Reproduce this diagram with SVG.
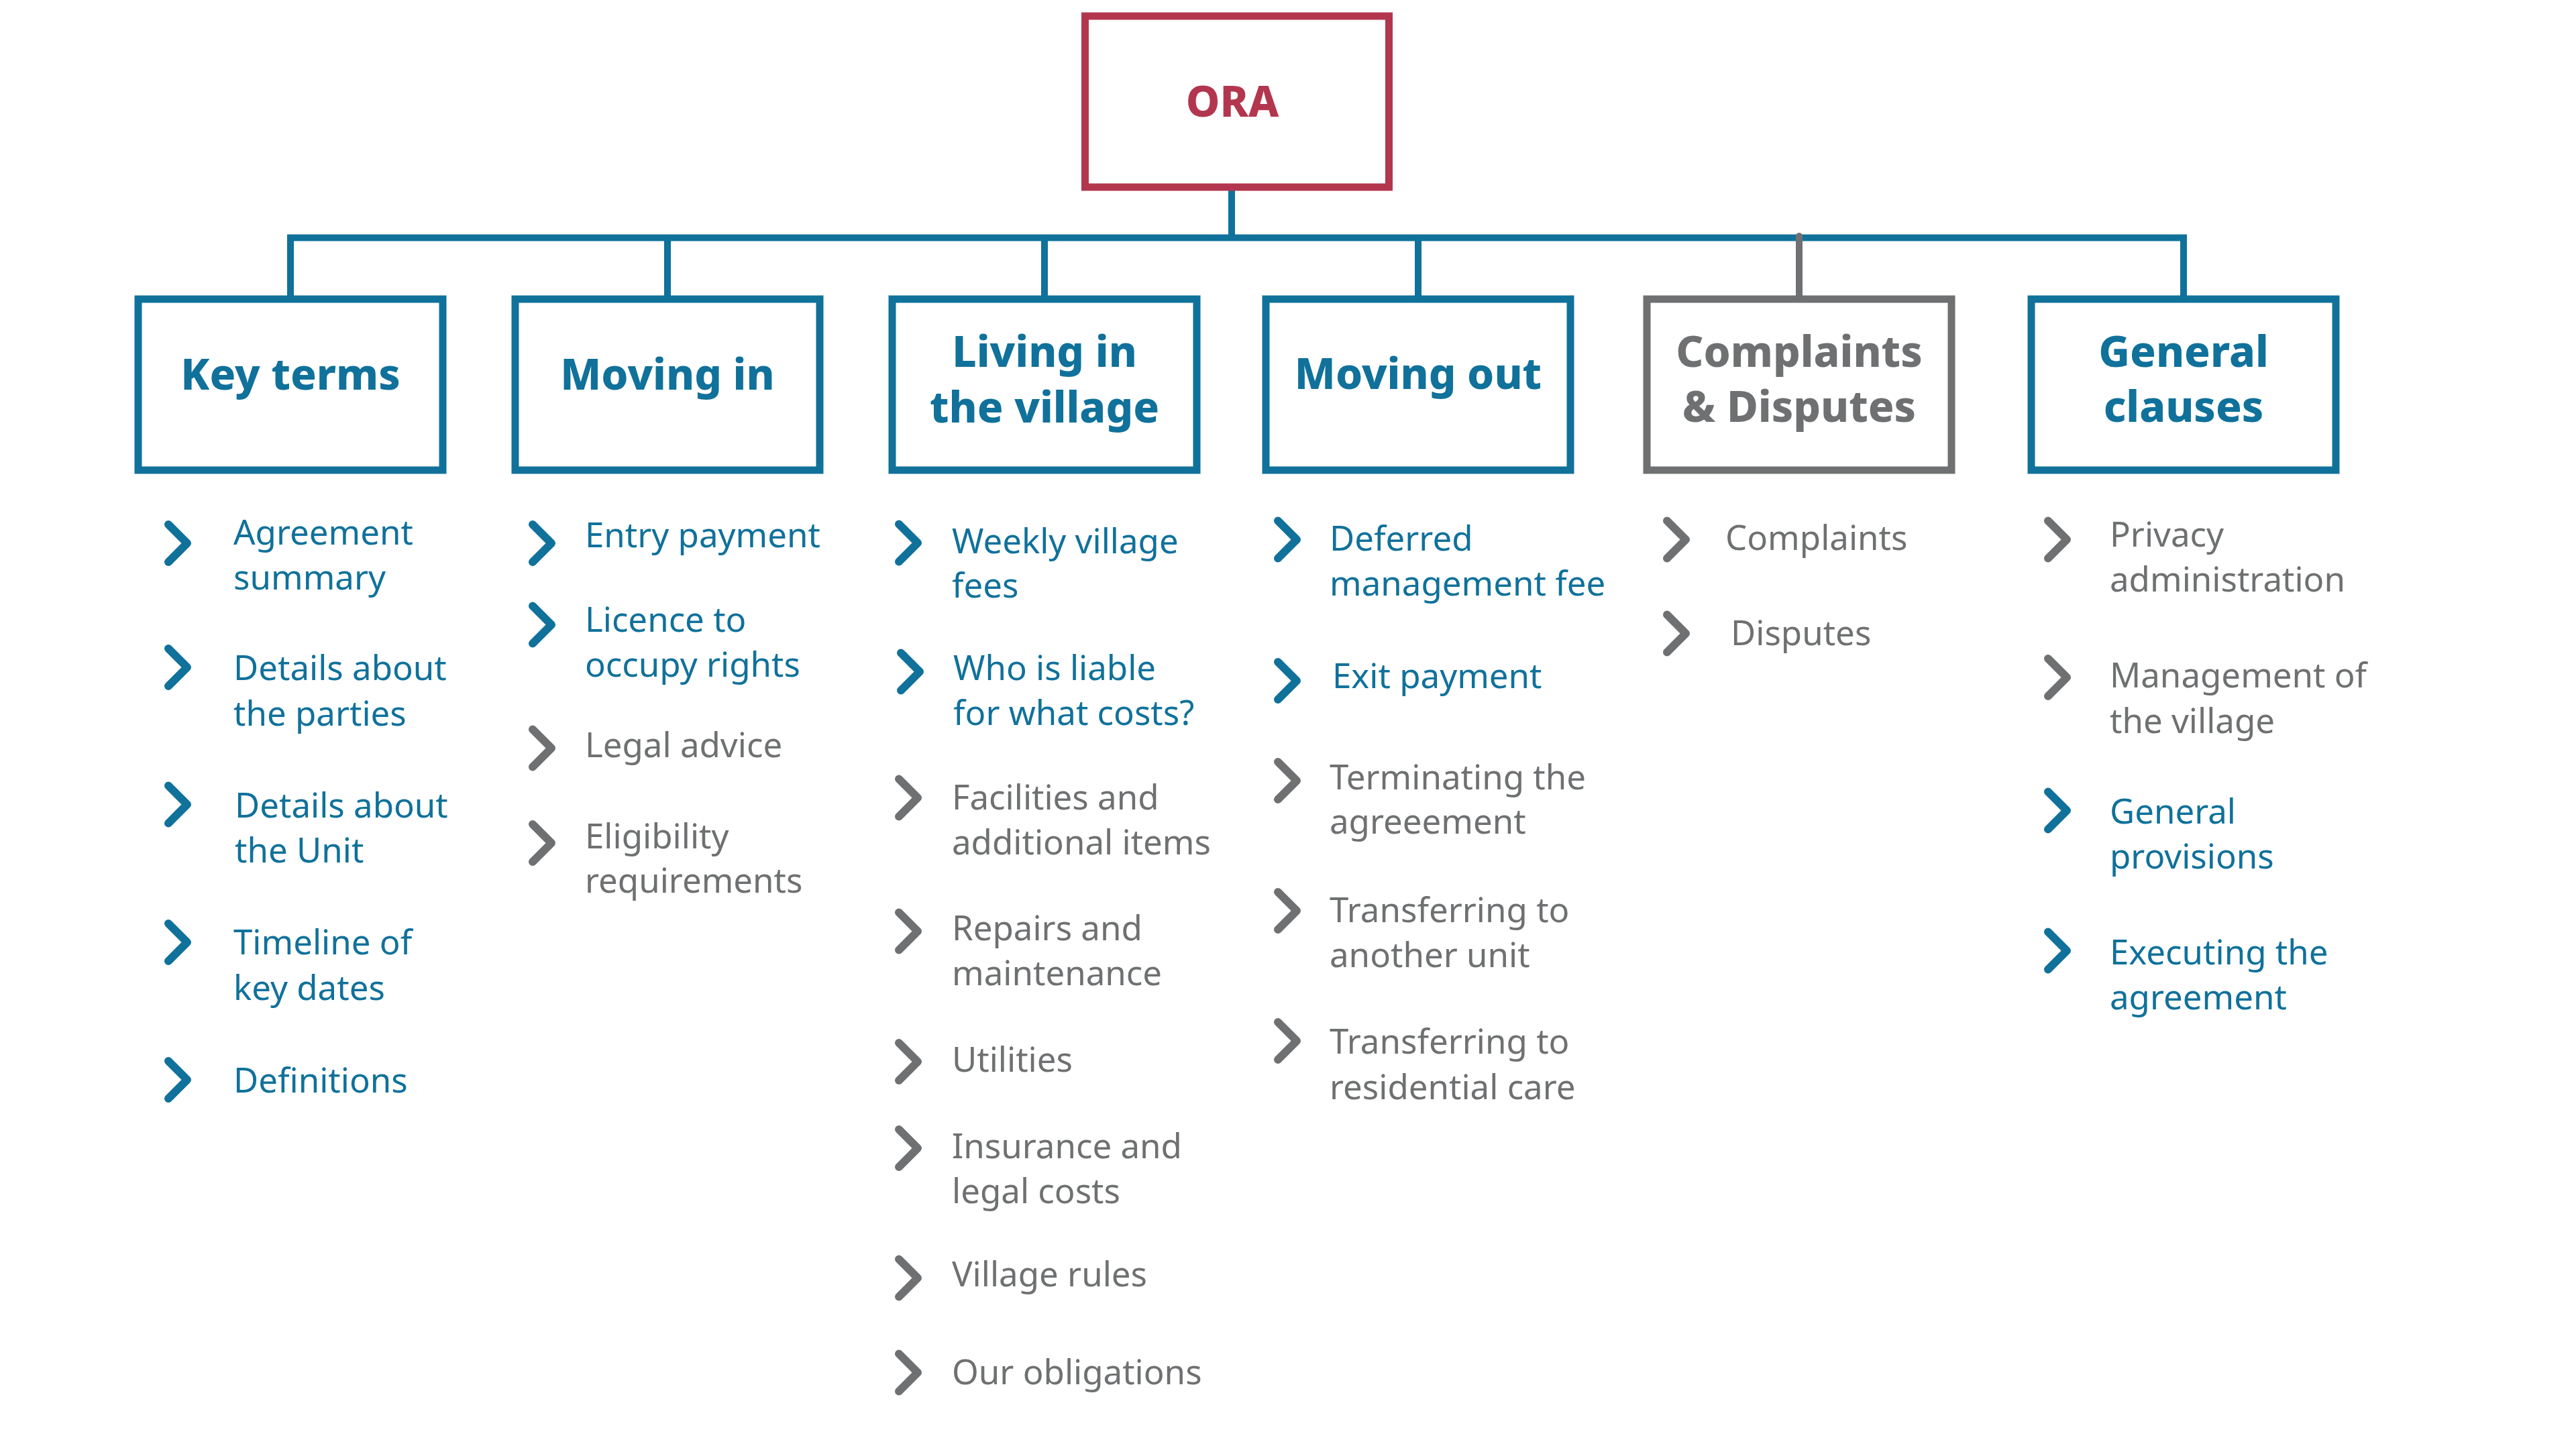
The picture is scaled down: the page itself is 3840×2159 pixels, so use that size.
<svg xmlns="http://www.w3.org/2000/svg" xmlns:xlink="http://www.w3.org/1999/xlink" width="3840" height="2159" viewBox="0 0 3840 2159">
<style>
  .bg { fill: #ffffff; }
  .box { fill: #ffffff; stroke-width: 11; }
  .boxb { stroke: #10719b; }
  .boxg { stroke: #6e7071; }
  .boxr { stroke: #b3364f; }
  .head { font-family: "Noto Sans", "Open Sans", "Liberation Sans", sans-serif; font-weight: 800; font-size: 64px; letter-spacing: 0px; text-anchor: middle; }
  .item { font-family: "Noto Sans", "Open Sans", "Liberation Sans", sans-serif; font-weight: 400; font-size: 51px; }
  .tb { fill: #10719b; }
  .tg { fill: #6e7071; }
  .tr { fill: #b3364f; }
  .cb { stroke: #10719b; }
  .cg { stroke: #6e7071; }
  .conn { fill: none; stroke-width: 10; }
</style>
<defs>
  <path id="chev" d="M0,-28 L28,0 L0,28" fill="none" stroke-width="12" stroke-linecap="round" stroke-linejoin="round"/>
</defs>
<rect class="bg" x="0" y="0" width="3840" height="2159"/>

<g id="connectors">
  <path class="conn" stroke="#10719b" d="M1836,284 V354.5"/>
  <path class="conn" stroke="#10719b" d="M433,441 V354.5 H3255 V441"/>
  <path class="conn" stroke="#10719b" d="M995,354.5 V441 M1557,354.5 V441 M2114,354.5 V441"/>
  <path class="conn" stroke="#6e7071" stroke-linecap="round" d="M2682,352 V441"/>
</g>

<g id="node-ora">
  <rect class="box boxr" x="1617.5" y="24" width="453" height="255"/>
  <text class="head tr" x="1837" y="174">ORA</text>
</g>

<g id="node-key-terms">
  <rect class="box boxb" x="206" y="446" width="454" height="255"/>
  <text class="head tb" x="433" y="581">Key terms</text>
  <use xlink:href="#chev" x="251" y="810" class="cb"/>
  <text class="item tb" x="348" y="812">Agreement<tspan x="348" y="879">summary</tspan></text>
  <use xlink:href="#chev" x="251" y="995" class="cb"/>
  <text class="item tb" x="348" y="1014">Details about<tspan x="348" y="1082">the parties</tspan></text>
  <use xlink:href="#chev" x="251" y="1199.5" class="cb"/>
  <text class="item tb" x="350" y="1219">Details about<tspan x="350" y="1286">the Unit</tspan></text>
  <use xlink:href="#chev" x="251" y="1405" class="cb"/>
  <text class="item tb" x="348" y="1423">Timeline of<tspan x="348" y="1491">key dates</tspan></text>
  <use xlink:href="#chev" x="251" y="1610" class="cb"/>
  <text class="item tb" x="348" y="1629">Definitions</text>
</g>

<g id="node-moving-in">
  <rect class="box boxb" x="768" y="446" width="454" height="255"/>
  <text class="head tb" x="995" y="581">Moving in</text>
  <use xlink:href="#chev" x="794" y="810" class="cb"/>
  <text class="item tb" x="872" y="816">Entry payment</text>
  <use xlink:href="#chev" x="794" y="931.5" class="cb"/>
  <text class="item tb" x="872" y="942">Licence to<tspan x="872" y="1009">occupy rights</tspan></text>
  <use xlink:href="#chev" x="794" y="1115.5" class="cg"/>
  <text class="item tg" x="872" y="1129">Legal advice</text>
  <use xlink:href="#chev" x="794" y="1257" class="cg"/>
  <text class="item tg" x="872" y="1265">Eligibility<tspan x="872" y="1331">requirements</tspan></text>
</g>

<g id="node-living">
  <rect class="box boxb" x="1330" y="446" width="454" height="255"/>
  <text class="head tb" x="1557" y="547">Living in<tspan x="1557" y="630">the village</tspan></text>
  <use xlink:href="#chev" x="1340" y="809.5" class="cb"/>
  <text class="item tb" x="1419" y="825">Weekly village<tspan x="1419" y="891">fees</tspan></text>
  <use xlink:href="#chev" x="1343" y="1001.5" class="cb"/>
  <text class="item tb" x="1421" y="1014">Who is liable<tspan x="1421" y="1081">for what costs?</tspan></text>
  <use xlink:href="#chev" x="1340" y="1189.5" class="cg"/>
  <text class="item tg" x="1419" y="1207">Facilities and<tspan x="1419" y="1274">additional items</tspan></text>
  <use xlink:href="#chev" x="1340" y="1388.5" class="cg"/>
  <text class="item tg" x="1419" y="1402">Repairs and<tspan x="1419" y="1469">maintenance</tspan></text>
  <use xlink:href="#chev" x="1340" y="1583" class="cg"/>
  <text class="item tg" x="1419" y="1598">Utilities</text>
  <use xlink:href="#chev" x="1340" y="1712" class="cg"/>
  <text class="item tg" x="1419" y="1727">Insurance and<tspan x="1419" y="1794">legal costs</tspan></text>
  <use xlink:href="#chev" x="1340" y="1905.5" class="cg"/>
  <text class="item tg" x="1419" y="1918">Village rules</text>
  <use xlink:href="#chev" x="1340" y="2046.5" class="cg"/>
  <text class="item tg" x="1419" y="2064">Our obligations</text>
</g>

<g id="node-moving-out">
  <rect class="box boxb" x="1887" y="446" width="454" height="255"/>
  <text class="head tb" x="2114" y="580">Moving out</text>
  <use xlink:href="#chev" x="1905" y="804.5" class="cb"/>
  <text class="item tb" x="1982" y="821">Deferred<tspan x="1982" y="888">management fee</tspan></text>
  <use xlink:href="#chev" x="1905" y="1015" class="cb"/>
  <text class="item tb" x="1986" y="1026">Exit payment</text>
  <use xlink:href="#chev" x="1905" y="1164" class="cg"/>
  <text class="item tg" x="1982" y="1177">Terminating the<tspan x="1982" y="1243">agreeement</tspan></text>
  <use xlink:href="#chev" x="1905" y="1358" class="cg"/>
  <text class="item tg" x="1982" y="1375">Transferring to<tspan x="1982" y="1442">another unit</tspan></text>
  <use xlink:href="#chev" x="1905" y="1552" class="cg"/>
  <text class="item tg" x="1982" y="1571">Transferring to<tspan x="1982" y="1639">residential care</tspan></text>
</g>

<g id="node-complaints">
  <rect class="box boxg" x="2455" y="446" width="454" height="255"/>
  <text class="head tg" x="2682" y="547">Complaints<tspan x="2682" y="629">&amp; Disputes</tspan></text>
  <use xlink:href="#chev" x="2485" y="804.5" class="cg"/>
  <text class="item tg" x="2572" y="820">Complaints</text>
  <use xlink:href="#chev" x="2485" y="944.5" class="cg"/>
  <text class="item tg" x="2580" y="962">Disputes</text>
</g>

<g id="node-general">
  <rect class="box boxb" x="3028" y="446" width="454" height="255"/>
  <text class="head tb" x="3255" y="547">General<tspan x="3255" y="629">clauses</tspan></text>
  <use xlink:href="#chev" x="3053" y="804.5" class="cg"/>
  <text class="item tg" x="3145" y="815">Privacy<tspan x="3145" y="882">administration</tspan></text>
  <use xlink:href="#chev" x="3053" y="1010" class="cg"/>
  <text class="item tg" x="3145" y="1025">Management of<tspan x="3145" y="1093">the village</tspan></text>
  <use xlink:href="#chev" x="3053" y="1208.5" class="cb"/>
  <text class="item tb" x="3145" y="1228">General<tspan x="3145" y="1295">provisions</tspan></text>
  <use xlink:href="#chev" x="3053" y="1417.5" class="cb"/>
  <text class="item tb" x="3145" y="1438">Executing the<tspan x="3145" y="1505">agreement</tspan></text>
</g>
</svg>
